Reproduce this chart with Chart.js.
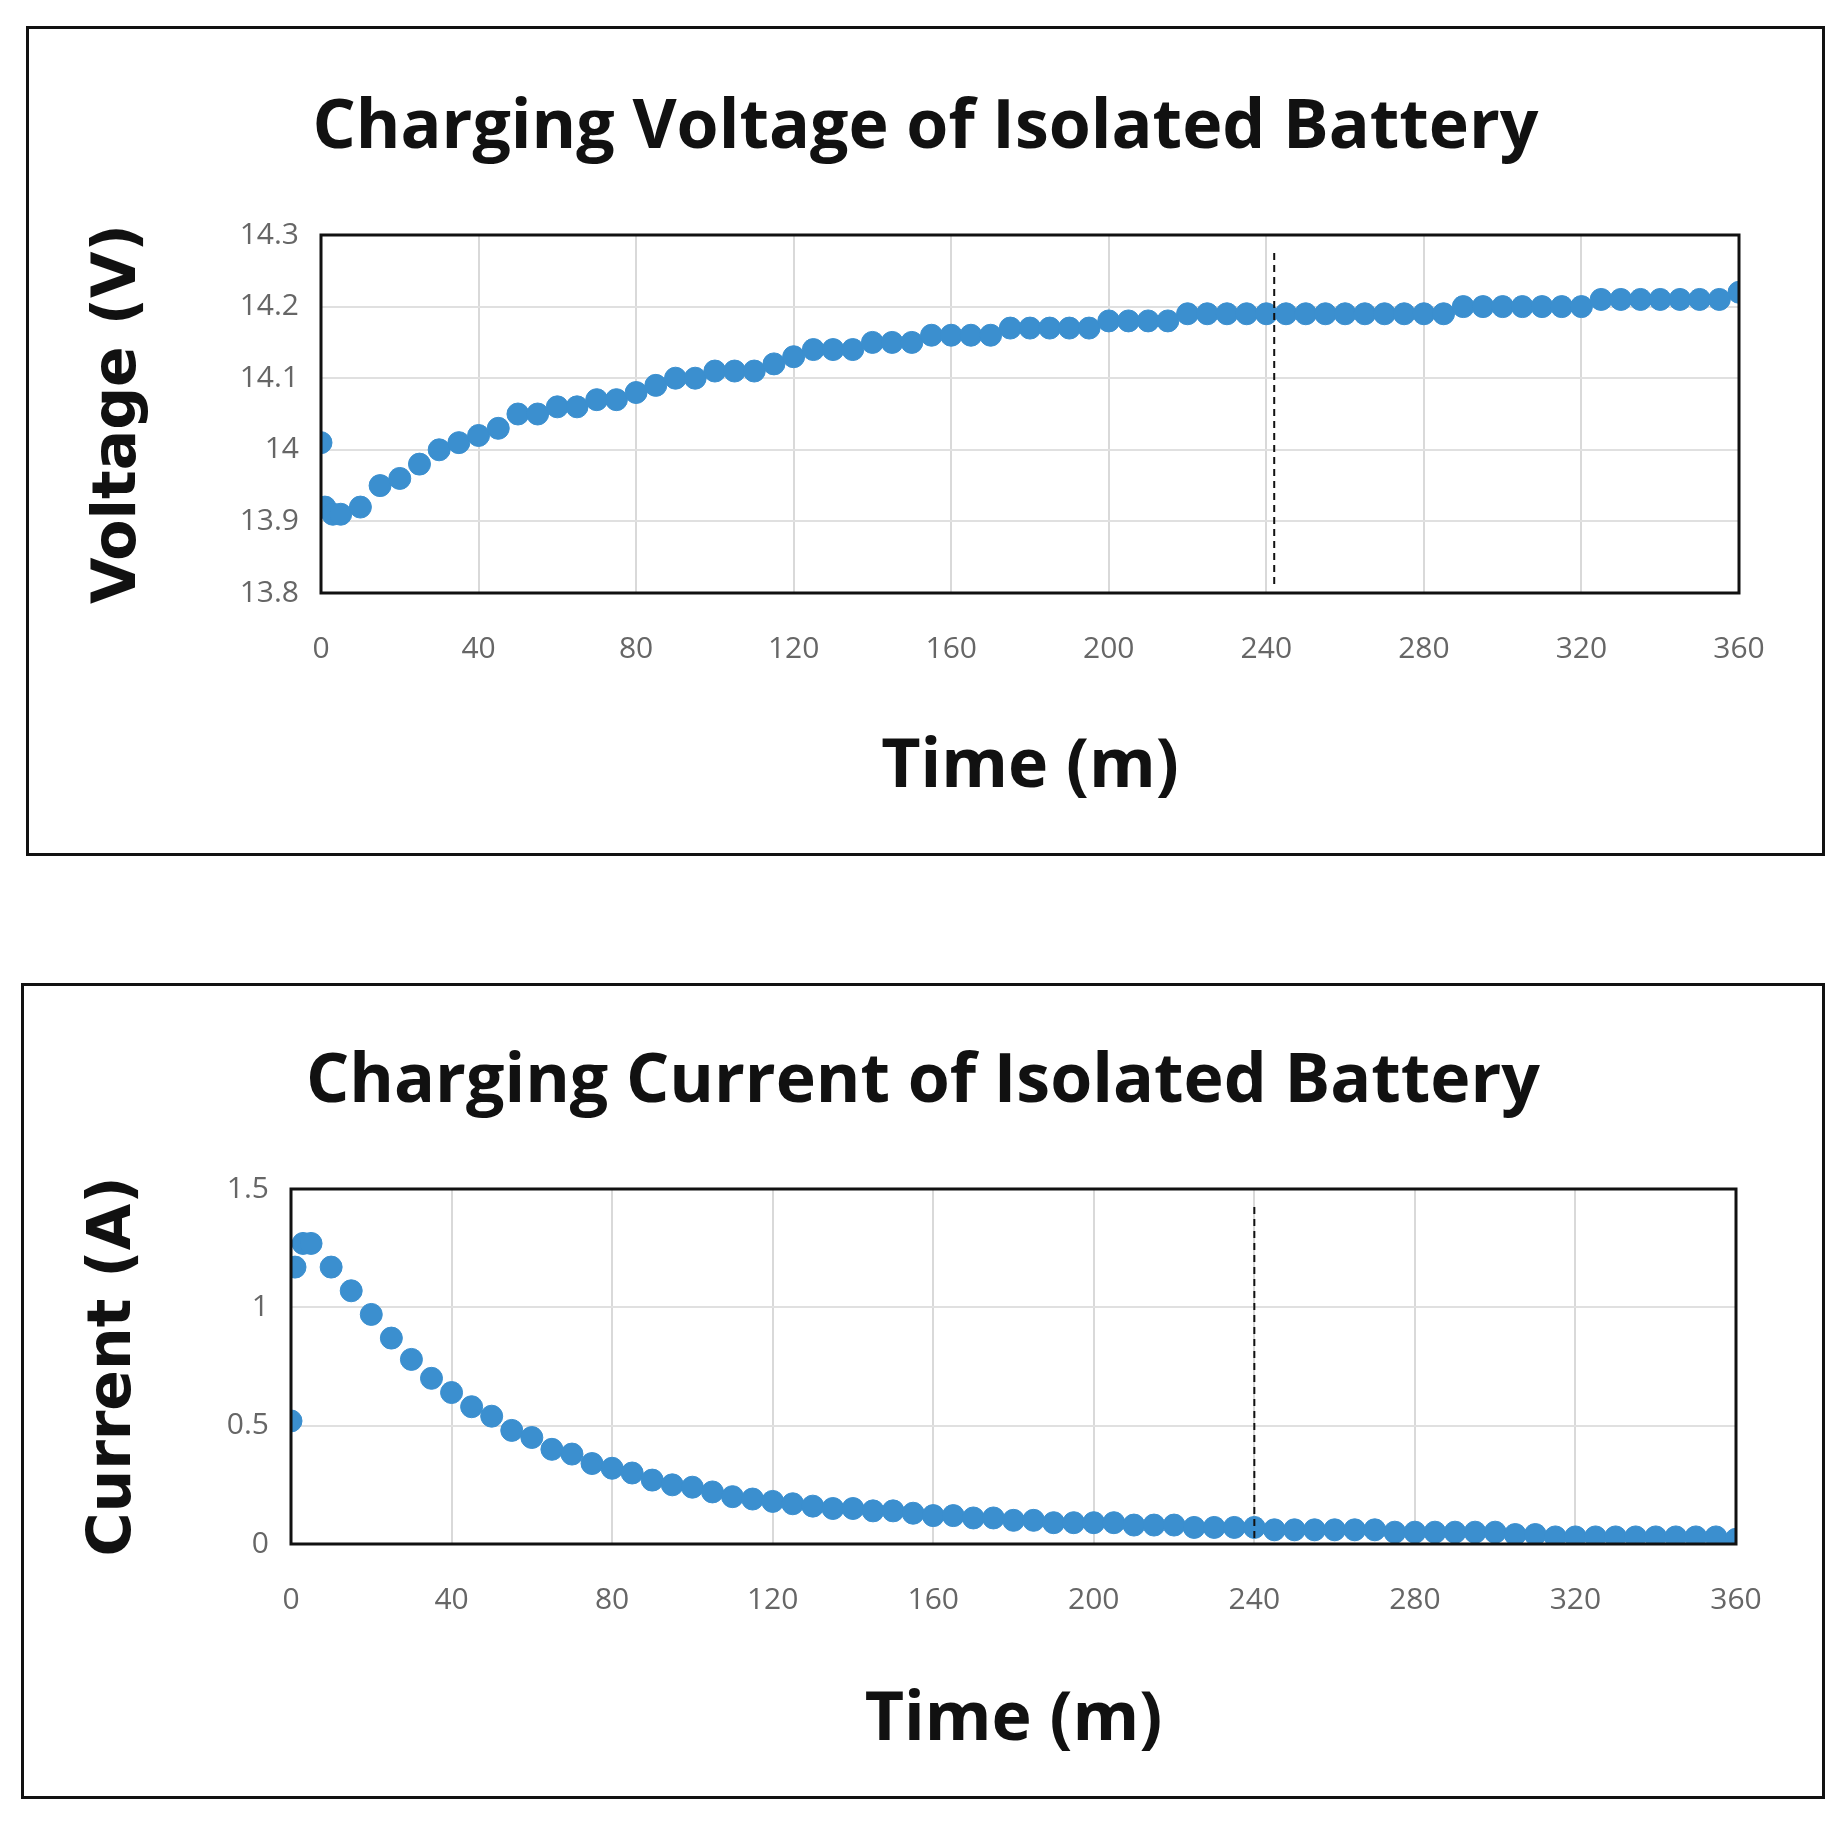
<!DOCTYPE html>
<html><head><meta charset="utf-8">
<script src="https://cdn.jsdelivr.net/npm/chart.js@4"></script>
<style>
body{margin:0;background:#fff;width:1846px;height:1825px;position:relative;overflow:hidden}
.box{position:absolute;border:3px solid #111;box-sizing:border-box;background:#fff}
</style></head><body>
<div class="box" id="b1" style="left:26px;top:26px;width:1799px;height:830px"><canvas id="c1"></canvas></div>
<div class="box" id="b2" style="left:21px;top:983px;width:1804px;height:816px"><canvas id="c2"></canvas></div>
<script>
const times = [0,1,3,5,10,15,20,25,30,35,40,45,50,55,60,65,70,75,80,85,90,95,100,105,110,115,120,125,130,135,140,145,150,155,160,165,170,175,180,185,190,195,200,205,210,215,220,225,230,235,240,245,250,255,260,265,270,275,280,285,290,295,300,305,310,315,320,325,330,335,340,345,350,355,360];
const voltage = [14.01,13.92,13.91,13.91,13.92,13.95,13.96,13.98,14.00,14.01,14.02,14.03,14.05,14.05,14.06,14.06,14.07,14.07,14.08,14.09,14.10,14.10,14.11,14.11,14.11,14.12,14.13,14.14,14.14,14.14,14.15,14.15,14.15,14.16,14.16,14.16,14.16,14.17,14.17,14.17,14.17,14.17,14.18,14.18,14.18,14.18,14.19,14.19,14.19,14.19,14.19,14.19,14.19,14.19,14.19,14.19,14.19,14.19,14.19,14.19,14.20,14.20,14.20,14.20,14.20,14.20,14.20,14.21,14.21,14.21,14.21,14.21,14.21,14.21,14.22];
const current = [0.52,1.17,1.27,1.27,1.17,1.07,0.97,0.87,0.78,0.70,0.64,0.58,0.54,0.48,0.45,0.40,0.38,0.34,0.32,0.30,0.27,0.25,0.24,0.22,0.20,0.19,0.18,0.17,0.16,0.15,0.15,0.14,0.14,0.13,0.12,0.12,0.11,0.11,0.10,0.10,0.09,0.09,0.09,0.09,0.08,0.08,0.08,0.07,0.07,0.07,0.07,0.06,0.06,0.06,0.06,0.06,0.06,0.05,0.05,0.05,0.05,0.05,0.05,0.04,0.04,0.03,0.03,0.03,0.03,0.03,0.03,0.03,0.03,0.03,0.02];
const xTicks = [0,40,80,120,160,200,240,280,320,360];
const vTicks = [13.8,13.9,14,14.1,14.2,14.3];
const vTickLabels = ['13.8','13.9','14','14.1','14.2','14.3'];
const iTicks = [0,0.5,1,1.5];
const iTickLabels = ['0','0.5','1','1.5'];
const markerV = 242, markerI = 240;

const frame = {id:'frame', afterDraw(ch, a, o){
  const {ctx, chartArea:c, scales} = ch;
  ctx.save();
  const x = scales.x.getPixelForValue(o.marker);
  ctx.strokeStyle='#111'; ctx.lineWidth=2; ctx.setLineDash([7,5]);
  ctx.beginPath(); ctx.moveTo(x,c.top+18); ctx.lineTo(x,c.bottom-4); ctx.stroke();
  ctx.setLineDash([]); ctx.lineWidth=3;
  ctx.strokeRect(c.left,c.top,c.right-c.left,c.bottom-c.top);
  ctx.fillStyle='#111'; ctx.font='bold 68px "Open Sans"';
  ctx.textAlign='center'; ctx.textBaseline='middle';
  ctx.fillText(o.title, ch.width/2, o.titleY);
  ctx.restore();
}};
function make(id, data, title, titleY, ytitle, ymin, ymax, yt, ytl, marker, L, R, T, B, xtPad, w, h){
  const cv=document.getElementById(id); cv.width=w; cv.height=h;
  cv.style.width=w+'px'; cv.style.height=h+'px';
  new Chart(cv,{type:'scatter',
    data:{datasets:[{data:times.map((t,i)=>({x:t,y:data[i]})),backgroundColor:'#3b8fcf',borderColor:'#3b8fcf',pointRadius:11,pointHoverRadius:11}]},
    options:{responsive:false,animation:false,devicePixelRatio:1,
      layout:{padding:{left:50,right:R,top:T,bottom:0}},
      plugins:{legend:{display:false},tooltip:{enabled:false},frame:{marker,title,titleY},title:{display:false}},
      scales:{
        x:{type:'linear',min:0,max:360,afterBuildTicks:s=>{s.ticks=xTicks.map(v=>({value:v}))},
          afterFit:s=>{s.height=B},
          grid:{color:'#d9d9d9',lineWidth:2,drawTicks:false},border:{display:false},
          ticks:{color:'#666',font:{family:'Open Sans',size:30},padding:38,maxRotation:0},
          title:{display:true,text:'Time (m)',color:'#111',font:{family:'Open Sans',weight:'bold',size:68},padding:{top:0,bottom:xtPad}}},
        y:{min:ymin,max:ymax,afterBuildTicks:s=>{s.ticks=yt.map(v=>({value:v}))},
          afterFit:s=>{s.width=L-50},
          grid:{color:'#e0e0e0',lineWidth:2,drawTicks:false},border:{display:false},
          ticks:{color:'#666',font:{family:'Open Sans',size:30},padding:22,callback:(v)=>{const i=yt.indexOf(v);return i>=0?ytl[i]:''}},
          title:{display:true,text:ytitle,color:'#111',font:{family:'DejaVu Sans',weight:'bold',size:60},padding:{bottom:10}}}
      }},
    plugins:[frame]});
}
make('c1',voltage,'Charging Voltage of Isolated Battery',100,'Voltage (V)',13.8,14.3,vTicks,vTickLabels,markerV,292,83,206,260,45,1793,824);
make('c2',current,'Charging Current of Isolated Battery',97,'Current (A)',0,1.5,iTicks,iTickLabels,markerI,267,86,203,252,35,1798,810);
</script></body></html>
